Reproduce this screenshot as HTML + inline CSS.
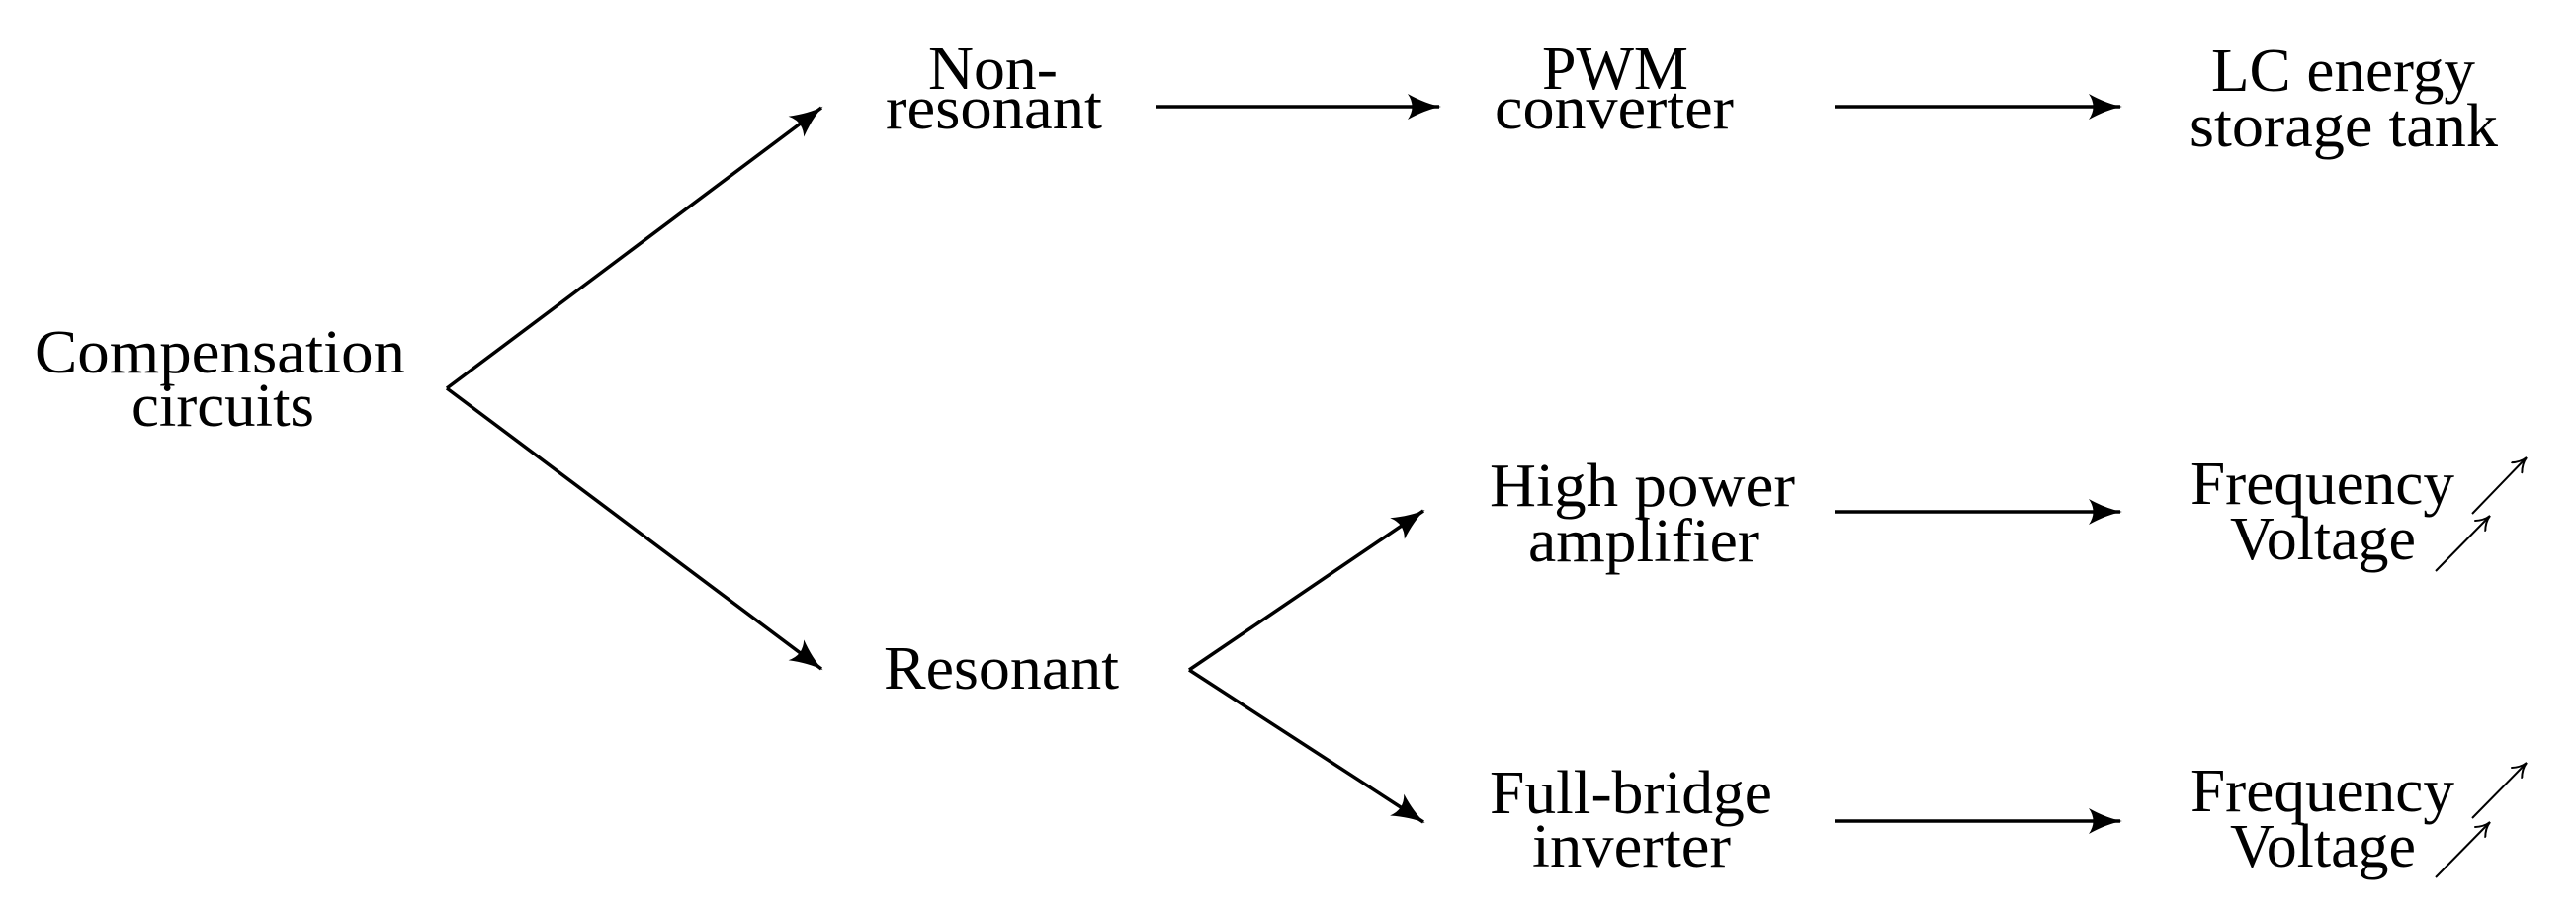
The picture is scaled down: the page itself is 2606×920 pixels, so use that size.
<!DOCTYPE html>
<html><head><meta charset="utf-8"><style>
html,body{margin:0;padding:0;background:#fff;}
svg{display:block;}
text{font-family:"Liberation Serif",serif;font-size:62px;fill:#000;}
</style></head><body>
<svg width="2606" height="920" viewBox="0 0 2606 920" xmlns="http://www.w3.org/2000/svg">
<defs>
<marker id="a" viewBox="0 0 34 26" refX="32" refY="13" markerWidth="34" markerHeight="26" markerUnits="userSpaceOnUse" orient="auto">
<path d="M0,0 Q18,10 34,13 Q18,16 0,26 Q9,13 0,0 Z" fill="#000"/>
</marker>
<marker id="s" viewBox="0 0 16 16" refX="15" refY="8" markerWidth="16" markerHeight="16" markerUnits="userSpaceOnUse" orient="auto">
<path d="M0,0 Q7,7 15,8 Q7,9 0,16" fill="none" stroke="#000" stroke-width="2"/>
</marker>
</defs>
<g stroke="#000" stroke-width="3.5" fill="none">
<line x1="452" y1="393" x2="831" y2="109" marker-end="url(#a)"/>
<line x1="452" y1="393" x2="831" y2="677" marker-end="url(#a)"/>
<line x1="1169" y1="108" x2="1456" y2="108" marker-end="url(#a)"/>
<line x1="1856" y1="108" x2="2145" y2="108" marker-end="url(#a)"/>
<line x1="1203" y1="678" x2="1440" y2="517" marker-end="url(#a)"/>
<line x1="1203" y1="678" x2="1440" y2="832" marker-end="url(#a)"/>
<line x1="1856" y1="518" x2="2145" y2="518" marker-end="url(#a)"/>
<line x1="1856" y1="831" x2="2145" y2="831" marker-end="url(#a)"/>
</g>
<g stroke="#000" stroke-width="2" fill="none">
<line x1="2501" y1="520" x2="2556" y2="463" marker-end="url(#s)"/>
<line x1="2464" y1="578" x2="2519" y2="522" marker-end="url(#s)"/>
<line x1="2501" y1="828" x2="2556" y2="772" marker-end="url(#s)"/>
<line x1="2464" y1="888" x2="2519" y2="832" marker-end="url(#s)"/>
</g>
<text x="35" y="377" textLength="375" lengthAdjust="spacingAndGlyphs">Compensation</text>
<text x="133" y="431" textLength="185" lengthAdjust="spacingAndGlyphs">circuits</text>
<text x="939" y="90" textLength="131" lengthAdjust="spacingAndGlyphs">Non-</text>
<text x="896" y="130" textLength="219" lengthAdjust="spacingAndGlyphs">resonant</text>
<text x="894" y="697" textLength="238" lengthAdjust="spacingAndGlyphs">Resonant</text>
<text x="1560" y="90" textLength="148" lengthAdjust="spacingAndGlyphs">PWM</text>
<text x="1512" y="130" textLength="242" lengthAdjust="spacingAndGlyphs">converter</text>
<text x="2237" y="92" textLength="267" lengthAdjust="spacingAndGlyphs">LC energy</text>
<text x="2215" y="148" textLength="312" lengthAdjust="spacingAndGlyphs">storage tank</text>
<text x="1507" y="512" textLength="309" lengthAdjust="spacingAndGlyphs">High power</text>
<text x="1546" y="568" textLength="233" lengthAdjust="spacingAndGlyphs">amplifier</text>
<text x="2216" y="510" textLength="267" lengthAdjust="spacingAndGlyphs">Frequency</text>
<text x="2256" y="566" textLength="188" lengthAdjust="spacingAndGlyphs">Voltage</text>
<text x="1507" y="823" textLength="286" lengthAdjust="spacingAndGlyphs">Full-bridge</text>
<text x="1550" y="877" textLength="201" lengthAdjust="spacingAndGlyphs">inverter</text>
<text x="2216" y="821" textLength="267" lengthAdjust="spacingAndGlyphs">Frequency</text>
<text x="2256" y="877" textLength="188" lengthAdjust="spacingAndGlyphs">Voltage</text>
</svg>
</body></html>
